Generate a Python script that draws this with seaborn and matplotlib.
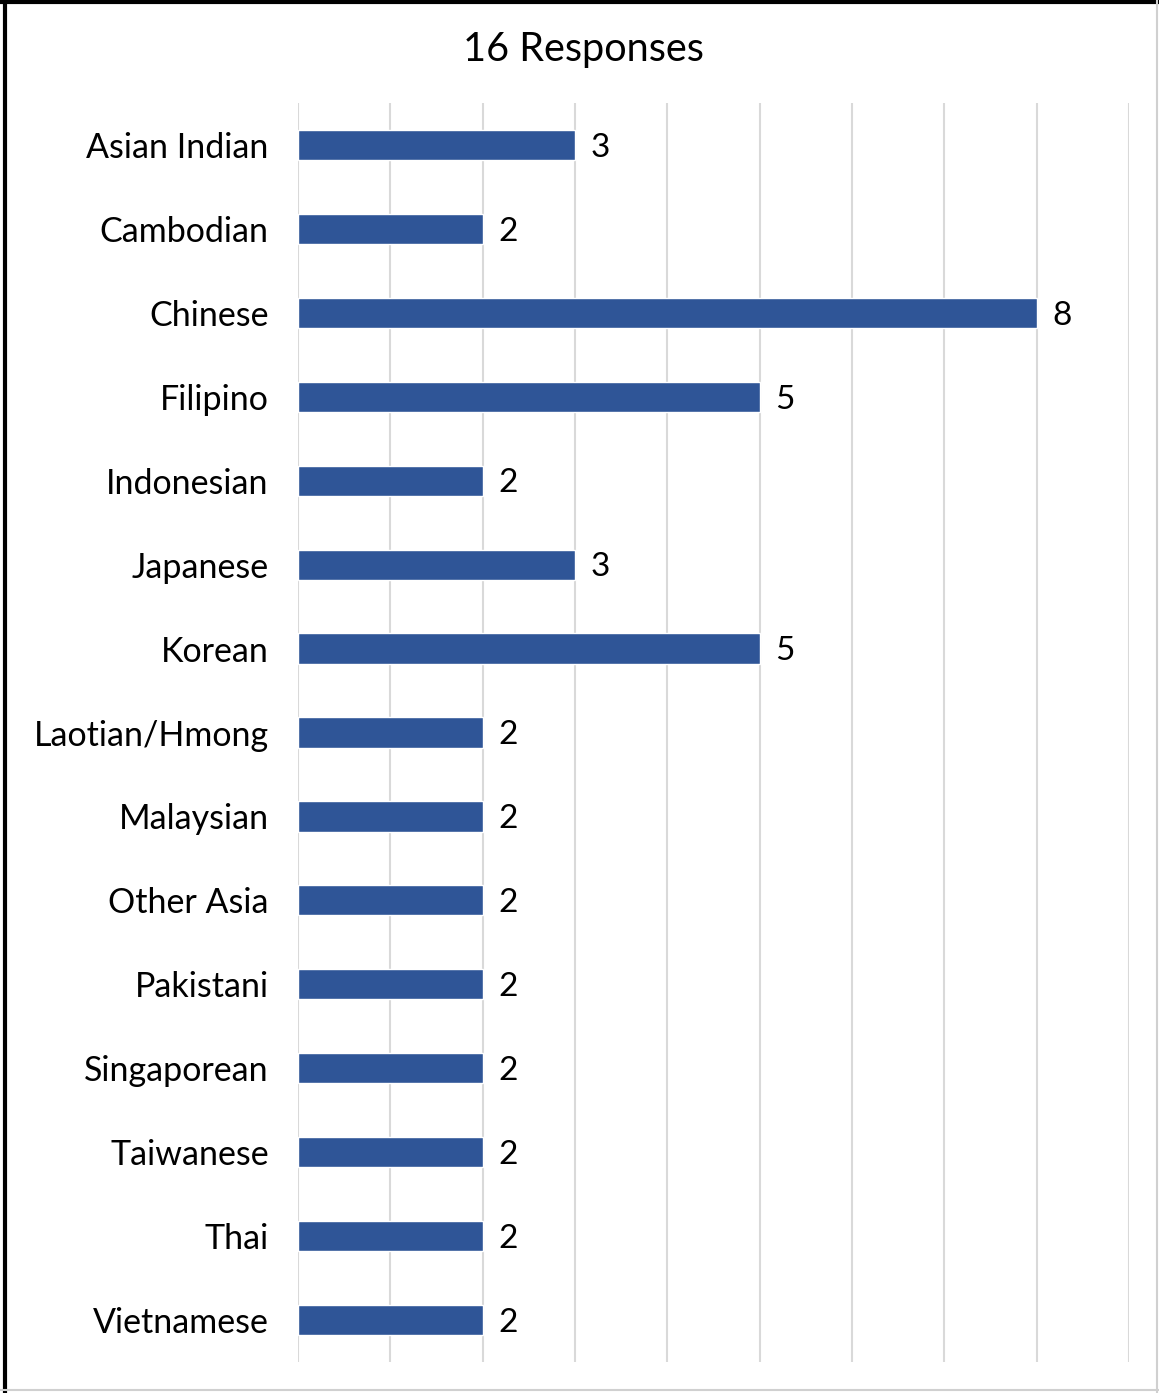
import matplotlib
matplotlib.use("Agg")
import matplotlib.pyplot as plt
from matplotlib.lines import Line2D
import seaborn as sns
import pandas as pd

categories = ["Asian Indian", "Cambodian", "Chinese", "Filipino", "Indonesian",
              "Japanese", "Korean", "Laotian/Hmong", "Malaysian", "Other Asia",
              "Pakistani", "Singaporean", "Taiwanese", "Thai", "Vietnamese"]
counts = [3, 2, 8, 5, 2, 3, 5, 2, 2, 2, 2, 2, 2, 2, 2]
title = "16 Responses"

df = pd.DataFrame({"group": categories, "count": counts})

sns.set_theme(style="white")
plt.rcParams["font.family"] = ["Lato", "DejaVu Sans"]

W, H = 1159, 1393
fig = plt.figure(figsize=(W / 100, H / 100), dpi=100)
ax = fig.add_axes([298 / W, 1 - 1362 / H, (1129 - 298) / W, (1362 - 103) / H])

sns.barplot(data=df, x="count", y="group", orient="h", color="#2F5597",
            width=0.36, saturation=1, ax=ax)

ax.set_xlim(0, 9)
ax.set_ylim(len(categories) - 0.5, -0.5)
ax.set_xticks(range(0, 10))
ax.set_xticklabels([])
ax.grid(axis="x", color="#D9D9D9", linewidth=1.5)
ax.set_axisbelow(True)
for s in ax.spines.values():
    s.set_visible(False)
ax.tick_params(axis="y", length=0, pad=21, labelsize=24.5, labelcolor="black")
ax.tick_params(axis="x", length=0)
ax.set_xlabel("")
ax.set_ylabel("")

# value labels to the right of each bar
for i, v in enumerate(counts):
    ax.annotate(str(v), xy=(v, i), xytext=(11, -2), textcoords="offset points",
                ha="left", va="center", fontsize=24, color="black")

fig.text(583 / W, 1 - 49 / H, title, ha="center", va="center", fontsize=28.5,
         color="black")

# figure frame
fig.add_artist(Line2D([5 / W, 5 / W], [0, 1], transform=fig.transFigure,
                      color="black", linewidth=3))
fig.add_artist(Line2D([0, 1], [1 - 2 / H, 1 - 2 / H], transform=fig.transFigure,
                      color="black", linewidth=3))
fig.add_artist(Line2D([1157 / W, 1157 / W], [0, 1], transform=fig.transFigure,
                      color="#D0D0D0", linewidth=1.5))
fig.add_artist(Line2D([0, 1], [1 - 1390 / H, 1 - 1390 / H], transform=fig.transFigure,
                      color="#D0D0D0", linewidth=1.5))

fig.savefig("out.png", dpi=100, facecolor="white")
